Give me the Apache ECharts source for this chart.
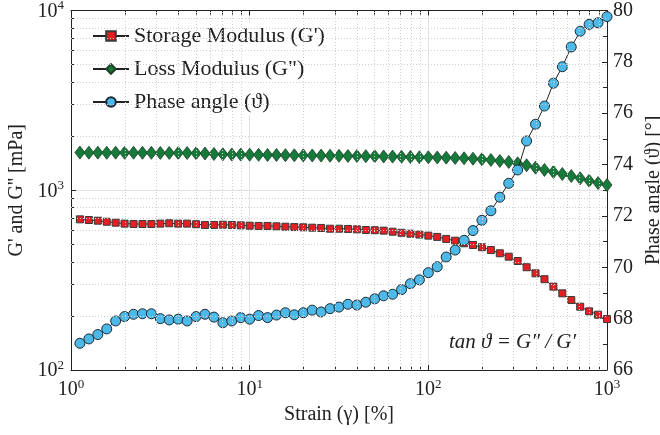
<!DOCTYPE html>
<html><head><meta charset="utf-8">
<script src="https://cdn.jsdelivr.net/npm/echarts@6/dist/echarts.min.js"></script>
<style>html,body{margin:0;padding:0;background:#fff}#c{width:660px;height:435px}</style>
</head><body><div id="c"></div>
<script>
// Strain (%) — 20 points per decade
const strain = [
  1.122, 1.259, 1.413, 1.585, 1.778, 1.995, 2.239, 2.512, 2.818, 3.162,
  3.548, 3.981, 4.467, 5.012, 5.623, 6.310, 7.079, 7.943, 8.913, 10.00,
  11.22, 12.59, 14.13, 15.85, 17.78, 19.95, 22.39, 25.12, 28.18, 31.62,
  35.48, 39.81, 44.67, 50.12, 56.23, 63.10, 70.79, 79.43, 89.13, 100.0,
  112.2, 125.9, 141.3, 158.5, 177.8, 199.5, 223.9, 251.2, 281.8, 316.2,
  354.8, 398.1, 446.7, 501.2, 562.3, 631.0, 707.9, 794.3, 891.3, 1000
];
// Storage modulus G' (mPa)
const storageModulus = [
  689, 683, 677, 668, 660, 652, 649, 649, 649, 652,
  655, 652, 652, 647, 641, 641, 643, 641, 638, 635,
  633, 633, 630, 627, 624, 622, 619, 617, 611, 611,
  609, 606, 601, 599, 596, 588, 580, 573, 567, 559,
  550, 536, 524, 507, 496, 482, 465, 446, 427, 404,
  373, 345, 320, 291, 267, 245, 225, 212, 203, 192
];
// Loss modulus G'' (mPa)
const lossModulus = [
  1620, 1618, 1619, 1617, 1618, 1616, 1617, 1615, 1616, 1614,
  1613, 1612, 1611, 1605, 1601, 1591, 1585, 1580, 1579, 1577,
  1575, 1571, 1571, 1567, 1565, 1563, 1561, 1559, 1557, 1555,
  1551, 1551, 1547, 1545, 1541, 1539, 1535, 1531, 1525, 1525,
  1521, 1518, 1512, 1506, 1499, 1487, 1474, 1456, 1437, 1412,
  1377, 1336, 1297, 1264, 1231, 1200, 1165, 1130, 1097, 1070
];
// Phase angle (deg)
const phaseAngle = [
  67.04, 67.21, 67.38, 67.60, 67.91, 68.08, 68.17, 68.19, 68.19, 68.00,
  67.95, 67.98, 67.91, 68.08, 68.17, 68.06, 67.84, 67.91, 68.04, 67.98,
  68.12, 68.04, 68.14, 68.23, 68.15, 68.23, 68.33, 68.26, 68.39, 68.45,
  68.56, 68.53, 68.64, 68.77, 68.89, 68.95, 69.13, 69.36, 69.51, 69.79,
  70.02, 70.40, 70.67, 71.05, 71.43, 71.83, 72.20, 72.73, 73.27, 73.79,
  74.92, 75.57, 76.28, 77.17, 77.81, 78.58, 79.19, 79.46, 79.52, 79.76
];
const seriesNames = ["Storage Modulus (G')", 'Loss Modulus (G")', 'Phase angle (\u03D1)'];
const xMinorTicks = [2,3,4,5,6,7,8,9,20,30,40,50,60,70,80,90,200,300,400,500,600,700,800,900];
const yMinorTicks = [200,300,400,500,600,700,800,900,2000,3000,4000,5000,6000,7000,8000,9000];
const phaseRange = [66, 80];

const FONT = '"Liberation Serif", "DejaVu Serif", serif';
const INK = '#222';
const pow10 = v => '{b|10}{s|' + Math.round(Math.log10(v)) + '}';
const powRich = {
  b: {fontSize: 20, fontFamily: FONT, color: INK, verticalAlign: 'bottom'},
  s: {fontSize: 13, fontFamily: FONT, color: INK, verticalAlign: 'bottom', padding: [0, 0, 9, 0]}
};
const lineAxisStyle = {lineStyle: {color: INK, width: 1}};

const chart = echarts.init(document.getElementById('c'), null, {renderer: 'canvas'});
chart.setOption({
  animation: false,
  backgroundColor: '#fff',
  grid: {left: 71, right: 53, top: 10.5, bottom: 65, containLabel: false, outerBoundsMode: 'none'},
  legend: {
    data: seriesNames,
    orient: 'vertical', left: 88, top: 23,
    itemWidth: 36, itemHeight: 12, itemGap: 11,
    padding: [2, 6, 2, 4],
    backgroundColor: '#fff',
    textStyle: {fontFamily: FONT, fontSize: 22, color: INK}
  },
  xAxis: [
    {type: 'log', min: 1, max: 1000, position: 'bottom',
     name: 'Strain (\u03B3) [%]', nameLocation: 'middle', nameGap: 32,
     nameTextStyle: {fontFamily: FONT, fontSize: 20, color: INK},
     axisLine: lineAxisStyle, axisTick: {inside: true, length: 5, lineStyle: {color: INK}},
     axisLabel: {formatter: pow10, rich: powRich, margin: 8},
     splitLine: {show: true, lineStyle: {color: '#e3e3e3', width: 1}}},
    {type: 'log', min: 1, max: 1000, position: 'bottom',
     axisLine: {show: false}, axisLabel: {show: false}, splitLine: {show: false},
     axisTick: {inside: true, length: 4, customValues: xMinorTicks, lineStyle: {color: INK}}},
    {type: 'log', min: 1, max: 1000, position: 'top',
     axisLine: lineAxisStyle, axisLabel: {show: false}, splitLine: {show: false},
     axisTick: {inside: true, length: 5, lineStyle: {color: INK}}},
    {type: 'log', min: 1, max: 1000, position: 'top',
     axisLine: {show: false}, axisLabel: {show: false}, splitLine: {show: false},
     axisTick: {inside: true, length: 4, customValues: xMinorTicks, lineStyle: {color: INK}}}
  ],
  yAxis: [
    {type: 'log', min: 100, max: 10000, position: 'left',
     name: "G' and G'' [mPa]", nameLocation: 'middle', nameGap: 44,
     nameTextStyle: {fontFamily: FONT, fontSize: 20, color: INK},
     axisLine: lineAxisStyle, axisTick: {inside: true, length: 5, lineStyle: {color: INK}},
     axisLabel: {formatter: pow10, rich: powRich, margin: 7},
     splitLine: {show: true, lineStyle: {color: '#e3e3e3', width: 1}}},
    {type: 'value', min: phaseRange[0], max: phaseRange[1], interval: 2, position: 'right',
     name: 'Phase angle (\u03D1) [\u00B0]', nameLocation: 'middle', nameGap: 34, nameRotate: 90,
     nameTextStyle: {fontFamily: FONT, fontSize: 20, color: INK},
     axisLine: {show: true, lineStyle: {color: INK, width: 1}},
     axisTick: {inside: true, length: 5, lineStyle: {color: INK}},
     minorTick: {show: true, splitNumber: 2, length: 4, lineStyle: {color: INK}},
     axisLabel: {fontFamily: FONT, fontSize: 20, color: INK, margin: 6},
     splitLine: {show: false}},
    {type: 'log', min: 100, max: 10000, position: 'left',
     axisLine: {show: false}, axisLabel: {show: false}, splitLine: {show: false},
     axisTick: {inside: true, length: 4, customValues: yMinorTicks, lineStyle: {color: INK}}}
  ],
  series: [
    {name: 'grid-minor', type: 'line', xAxisIndex: 0, yAxisIndex: 0, data: [], z: 1, silent: true,
     markLine: {silent: true, symbol: 'none', label: {show: false},
       lineStyle: {color: '#cfcfcf', type: [1, 2], width: 1},
       data: xMinorTicks.map(v => ({xAxis: v})).concat(yMinorTicks.map(v => ({yAxis: v})))}},
    {name: seriesNames[0], type: 'line', xAxisIndex: 0, yAxisIndex: 0, z: 3,
     data: strain.map((x, i) => [x, storageModulus[i]]),
     symbol: 'rect', symbolSize: 7,
     itemStyle: {color: '#e41f23', borderColor: '#3a3a3a', borderWidth: 1},
     lineStyle: {color: INK, width: 1}},
    {name: seriesNames[1], type: 'line', xAxisIndex: 0, yAxisIndex: 0, z: 3,
     data: strain.map((x, i) => [x, lossModulus[i]]),
     symbol: 'diamond', symbolSize: [10, 13],
     itemStyle: {color: '#157a3a', borderColor: '#1f3f28', borderWidth: 0.8},
     lineStyle: {color: INK, width: 1}},
    {name: seriesNames[2], type: 'line', xAxisIndex: 0, yAxisIndex: 1, z: 4,
     data: strain.map((x, i) => [x, phaseAngle[i]]),
     symbol: 'circle', symbolSize: 10,
     itemStyle: {color: '#4cb9e8', borderColor: '#1e2a33', borderWidth: 1},
     lineStyle: {color: INK, width: 1}}
  ],
  graphic: [
    {type: 'text', left: 449, top: 332, z: 10,
     style: {text: 'tan \u03D1 = G\u2033 / G\u2032', font: 'italic 21px "Liberation Serif", serif', fill: INK}}
  ]
});
</script>
</body></html>
